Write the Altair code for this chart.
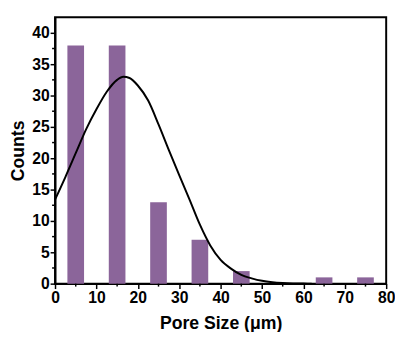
import altair as alt
import pandas as pd

# Histogram bins (centres) and counts
bin_centers = [5, 15, 25, 35, 45, 55, 65, 75]
counts = [38, 38, 13, 7, 2, 0, 1, 1]

# Fitted curve
curve_x = [0, 2.5, 5, 7.5, 10, 12.5, 15, 16.5, 18, 20, 22.5, 25, 27.5, 30, 32.5,
           35, 37.5, 40, 42.5, 45, 47.5, 50, 52.5, 55, 57.5, 60, 62]
curve_y = [13.4, 17.0, 20.8, 24.6, 27.8, 30.6, 32.5, 33.0, 32.8, 31.6, 29.2, 25.4,
           21.3, 17.3, 13.4, 9.4, 6.1, 3.8, 2.4, 1.4, 0.85, 0.45, 0.22, 0.1, 0.04, 0.01, 0.0]

x_major = [0, 10, 20, 30, 40, 50, 60, 70, 80]
x_minor = [5, 15, 25, 35, 45, 55, 65, 75]
y_major = [0, 5, 10, 15, 20, 25, 30, 35, 40]
y_minor = [2.5, 7.5, 12.5, 17.5, 22.5, 27.5, 32.5, 37.5]

bars_df = pd.DataFrame({"size": bin_centers, "count": counts})
curve_df = pd.DataFrame({"size": curve_x, "count": curve_y})
xminor_df = pd.DataFrame({"size": x_minor})
yminor_df = pd.DataFrame({"count": y_minor})

FONT = "Liberation Sans"
xscale = alt.Scale(domain=[0, 80], nice=False, zero=False, padding=0)
yscale = alt.Scale(domain=[0, 42.5], nice=False, padding=0)

common_axis = dict(
    domainColor="black", domainWidth=2, tickColor="black", tickWidth=1.5,
    grid=False, labelFont=FONT, labelFontSize=16, labelFontWeight="bold",
    labelColor="black", titleFont=FONT, titleFontSize=18, titleFontWeight="bold",
    titleColor="black", labelOverlap=False,
)
xaxis = alt.Axis(values=x_major, tickSize=5, labelPadding=1,
                 title="Pore Size (μm)", titlePadding=10,
                 labelFlush=False, **common_axis)
yaxis = alt.Axis(values=y_major, tickSize=5, labelPadding=1,
                 title="Counts", titlePadding=4, **common_axis)

X = alt.X("size:Q", scale=xscale, axis=xaxis, title="Pore Size (μm)")
Y = alt.Y("count:Q", scale=yscale, axis=yaxis, title="Counts")

bars = alt.Chart(bars_df).mark_bar(size=17, color="#8b659a").encode(x=X, y=Y)

line = alt.Chart(curve_df).mark_line(color="black", strokeWidth=2,
                                     interpolate="monotone").encode(x=X, y=Y)

# minor tick marks just outside the axes
xminor = alt.Chart(xminor_df).mark_rule(color="black", strokeWidth=1.5).encode(
    x=X, y=alt.value(272), y2=alt.value(275),
)
yminor = alt.Chart(yminor_df).mark_rule(color="black", strokeWidth=1.5).encode(
    y=Y, x=alt.value(-3), x2=alt.value(0),
)

chart = alt.layer(bars, line, xminor, yminor).properties(
    width=338, height=272,
    autosize=alt.AutoSizeParams(type="none"),
    padding={"left": 48, "top": 6, "right": 9, "bottom": 46},
    background="white",
).configure_view(stroke="black", strokeWidth=2)

chart.save("out.html", embed_options={"renderer": "svg", "actions": False})
